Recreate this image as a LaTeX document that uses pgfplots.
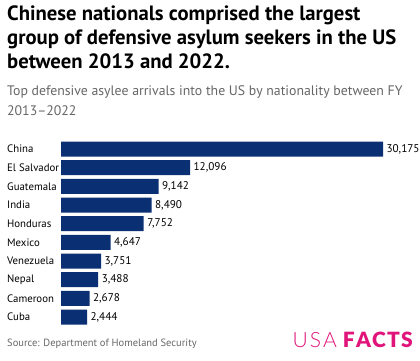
\documentclass[border=0pt]{standalone}
\usepackage{pgfplots}
\pgfplotsset{compat=1.18}
\usepackage{fontspec}
\setmainfont{PT Sans}
\newfontfamily\lightfont{Lato Light}
\newfontfamily\boldfont{Lato Black}
\definecolor{barblue}{HTML}{0A2F73}
\definecolor{subgray}{HTML}{666666}
\definecolor{usapink}{HTML}{E0147A}
\begin{document}
\begin{tikzpicture}[x=1pt,y=1pt]
\useasboundingbox (0,0) rectangle (420,360);
\node[anchor=north west, inner sep=0, align=left, font=\fontsize{20.7}{24}\selectfont\bfseries] at (7,354)
{Chinese nationals comprised the largest\\group of defensive asylum seekers in the US\\between 2013 and 2022.};
\node[anchor=north west, inner sep=0, align=left, text=subgray, font=\fontsize{13.8}{20}\selectfont] at (7,275)
{Top defensive asylee arrivals into the US by nationality between FY\\2013--2022};
\begin{axis}[
  at={(61pt,220.3pt)}, anchor=north west,
  scale only axis, width=322pt, height=186.7pt,
  xbar, bar width=15pt,
  xmin=0, xmax=30175,
  ymin=-0.5, ymax=9.5, y dir=reverse,
  axis line style={draw=none}, xtick=\empty,
  ytick={0,...,9},
  yticklabels={China,El Salvador,Guatemala,India,Honduras,Mexico,Venezuela,Nepal,Cameroon,Cuba},
  major tick length=0pt,
  yticklabel style={anchor=west, inner sep=0pt, xshift=-54pt, font=\fontsize{10.8}{13}\selectfont},
  nodes near coords,
  nodes near coords style={font=\fontsize{11.2}{13}\selectfont, anchor=west, xshift=0pt},
  point meta=explicit symbolic,
  clip=false,
]
\addplot[fill=barblue, draw=none] coordinates {
(30175,0) [30,175]
(12096,1) [12,096]
(9142,2) [9,142]
(8490,3) [8,490]
(7752,4) [7,752]
(4647,5) [4,647]
(3751,6) [3,751]
(3488,7) [3,488]
(2678,8) [2,678]
(2444,9) [2,444]
};
\end{axis}
\node[anchor=base west, inner sep=0, text=subgray, font=\fontsize{10.5}{12}\selectfont] at (7,14) {Source: Department of Homeland Security};
\node[anchor=base east, inner sep=0, text=usapink, font=\fontsize{21}{24}\selectfont] at (413,13) {{\lightfont U\kern2pt S\kern2pt A}\kern6pt{\boldfont F\kern1.2pt A\kern1.2pt C\kern1.2pt T\kern1.2pt S}};
\end{tikzpicture}
\end{document}
